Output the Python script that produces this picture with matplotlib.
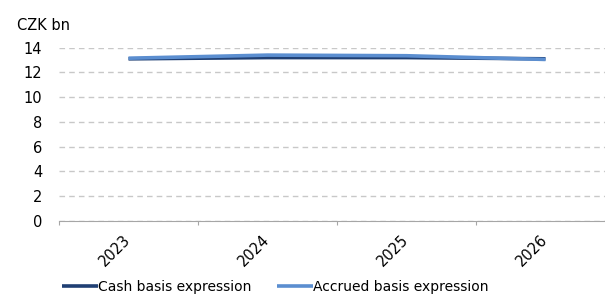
import matplotlib
matplotlib.use("Agg")
import matplotlib.pyplot as plt
import matplotlib.transforms as mtransforms

years = ["2023", "2024", "2025", "2026"]
cash = [13.1, 13.2, 13.2, 13.1]
accrued = [13.15, 13.4, 13.35, 13.05]
yticks = [0, 2, 4, 6, 8, 10, 12, 14]

plt.rcParams['font.family'] = ['DejaVu Sans']
fig = plt.figure(figsize=(6.05, 2.94), dpi=100)
ax = fig.add_axes([59/605, (294-220.7)/294, 556/605, 173/294])

x = list(range(len(years)))
ax.plot(x, cash, color="#1F3F73", lw=2.6, solid_capstyle="butt", label="Cash basis expression", zorder=3)
ax.plot(x, accrued, color="#5B8ED0", lw=2.6, solid_capstyle="butt", label="Accrued basis expression", zorder=4)

ax.set_xlim(-0.5, len(years) - 0.5)
ax.set_ylim(0, 14)
ax.set_yticks(yticks)
ax.set_yticklabels([str(v) for v in yticks], fontsize=10.5)
ax.yaxis.grid(True, color="#C8C8C8", linestyle=(0, (4, 3)), lw=1)
ax.set_axisbelow(True)
ax.tick_params(axis="y", length=0, pad=12)

# category boundary ticks
ax.set_xticks([i - 0.5 for i in range(len(years) + 1)])
ax.set_xticklabels([])
ax.tick_params(axis="x", length=3, color="#A6A6A6", direction="out")
ax.set_xticks(x, minor=True)
ax.set_xticklabels(years, minor=True, rotation=45, ha="right", va="top",
                   rotation_mode="anchor", fontsize=10.5)
ax.tick_params(axis="x", which="minor", length=0, pad=8)
offset = mtransforms.ScaledTranslation(-4/72, 0, fig.dpi_scale_trans)
for lab in ax.get_xticklabels(minor=True):
    lab.set_transform(lab.get_transform() + offset)

for s in ["top", "right", "left"]:
    ax.spines[s].set_visible(False)
ax.spines["bottom"].set_color("#A6A6A6")

fig.text(17/605, 1 - 25/294, "CZK bn", fontsize=10.5, va="center", ha="left")

leg = fig.legend(loc="center", bbox_to_anchor=(0.455, 1 - 287/294), ncol=2, frameon=False,
                 fontsize=10, handlelength=2.6, handletextpad=0.0, columnspacing=1.8)

fig.savefig("out.png", dpi=100)
